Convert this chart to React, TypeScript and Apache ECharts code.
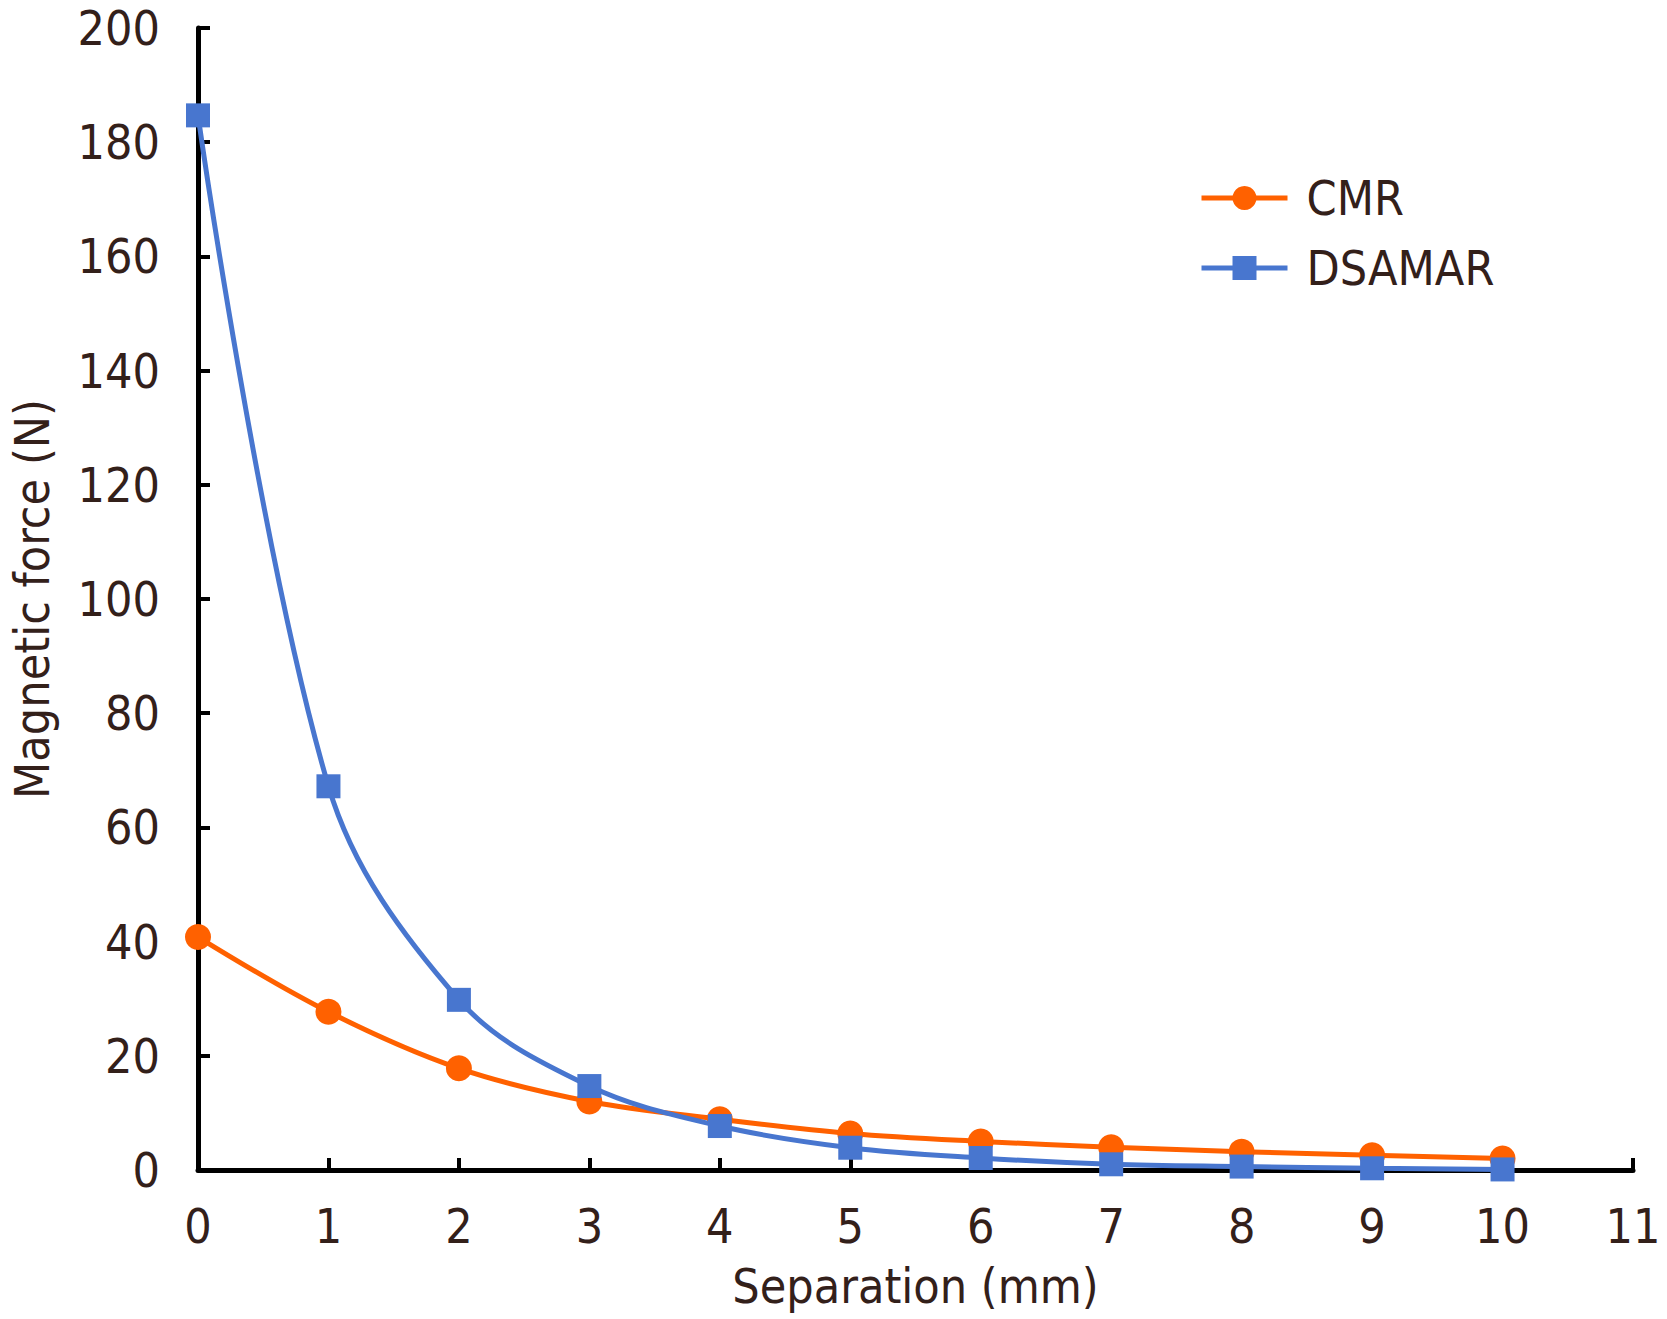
import React, { useEffect, useRef } from "react";
import * as echarts from "echarts";

const separation = [0, 1, 2, 3, 4, 5, 6, 7, 8, 9, 10];
const cmrForce = [40.8, 27.7, 17.8, 12.0, 8.9, 6.4, 5.0, 4.0, 3.2, 2.6, 2.0];
const dsamarForce = [184.7, 67.2, 29.8, 14.7, 7.7, 3.9, 2.1, 1.0, 0.6, 0.3, 0.1];
const seriesNames = ["CMR", "DSAMAR"];

const textColor = "#33201A";
const fontFamily = "'DejaVu Sans Condensed', 'DejaVu Sans', sans-serif";
const orange = "#FF6100";
const blue = "#4876CF";

export default function App() {
  const ref = useRef<HTMLDivElement>(null);
  useEffect(() => {
    if (!ref.current) return;
    const chart = echarts.init(ref.current, undefined, { renderer: "svg" });
    chart.setOption({
      animation: false,
      backgroundColor: "#ffffff",
      grid: { left: 181, right: 34, top: 28, bottom: 149, containLabel: false },
      legend: {
        orient: "vertical",
        left: 1194,
        top: 166,
        itemWidth: 86,
        itemHeight: 30,
        itemGap: 16,
        data: [
          { name: seriesNames[0], lineStyle: { width: 5 } },
          { name: seriesNames[1], lineStyle: { width: 5 } },
        ],
        textStyle: { color: textColor, fontSize: 48, fontFamily, lineHeight: 54, padding: [0, 0, 0, 14] },
      },
      xAxis: {
        type: "value",
        min: 0,
        max: 11,
        interval: 1,
        name: "Separation (mm)",
        nameLocation: "middle",
        nameGap: 92,
        nameTextStyle: { color: textColor, fontSize: 48, fontFamily },
        axisLine: { show: true, onZero: false, lineStyle: { color: "#000", width: 5 } },
        axisTick: { show: true, inside: true, length: 12, lineStyle: { color: "#000", width: 4 } },
        axisLabel: { color: textColor, fontSize: 48, fontFamily, margin: 32 },
        splitLine: { show: false },
      },
      yAxis: {
        type: "value",
        min: 0,
        max: 200,
        interval: 20,
        name: "Magnetic force (N)",
        nameLocation: "middle",
        nameGap: 142,
        nameRotate: 90,
        nameTextStyle: { color: textColor, fontSize: 48, fontFamily },
        axisLine: { show: true, lineStyle: { color: "#000", width: 5 } },
        axisTick: { show: true, inside: true, length: 12, lineStyle: { color: "#000", width: 4 } },
        axisLabel: { color: textColor, fontSize: 48, fontFamily, margin: 38, lineHeight: 40 },
        splitLine: { show: false },
      },
      series: [
        {
          name: seriesNames[0],
          type: "line",
          smooth: 0.35,
          data: separation.map((x, i) => [x, cmrForce[i]]),
          symbol: "circle",
          symbolSize: 26,
          itemStyle: { color: orange },
          lineStyle: { color: orange, width: 5 },
          z: 3,
        },
        {
          name: seriesNames[1],
          type: "line",
          smooth: 0.35,
          data: separation.map((x, i) => [x, dsamarForce[i]]),
          symbol: "rect",
          symbolSize: 24,
          itemStyle: { color: blue },
          lineStyle: { color: blue, width: 5 },
          z: 4,
        },
      ],
    });
    return () => chart.dispose();
  }, []);
  return (
    <div
      ref={ref}
      style={{ position: "absolute", left: 0, top: 0, width: 1667, height: 1319 }}
    />
  );
}
